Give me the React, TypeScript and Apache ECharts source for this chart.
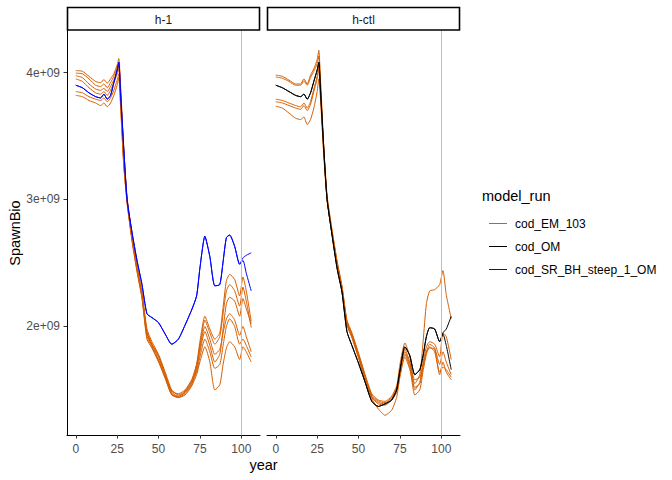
import React, { useEffect, useRef } from "react";
import * as echarts from "echarts";

// ---------- data (values in units of 1e9) ----------
const YEARS = [0, 4, 8, 12, 15, 17, 19, 21, 23, 25, 26, 27, 29, 31, 34, 37, 40, 43, 46, 50, 54, 58, 62, 66, 70, 73, 75, 78, 81, 84, 87, 89, 91, 93, 96, 99, 101, 103, 106];

// panel h-1
const H1_OM_A = [3.90, 3.88, 3.84, 3.81, 3.80, 3.83, 3.79, 3.82, 3.92, 4.02, 4.08, 3.85, 3.40, 3.00, 2.74, 2.52, 2.33, 2.10, 2.07, 2.03, 1.94, 1.86, 1.90, 2.01, 2.13, 2.24, 2.46, 2.71, 2.55, 2.32, 2.33, 2.51, 2.70, 2.72, 2.63, 2.49, 2.54, 2.56, 2.58];
const H1_OM_B = [3.90, 3.88, 3.84, 3.81, 3.80, 3.83, 3.79, 3.82, 3.92, 4.02, 4.08, 3.85, 3.40, 3.00, 2.74, 2.52, 2.33, 2.10, 2.07, 2.03, 1.94, 1.86, 1.90, 2.01, 2.13, 2.24, 2.46, 2.71, 2.55, 2.32, 2.33, 2.51, 2.70, 2.72, 2.63, 2.49, 2.52, 2.42, 2.28];
const H1_EM_1 = [4.015, 4.01, 3.97, 3.93, 3.92, 3.945, 3.915, 3.95, 3.99, 4.06, 4.11, 3.92, 3.40, 3.02, 2.72, 2.48, 2.27, 1.98, 1.88, 1.78, 1.64, 1.50, 1.46, 1.49, 1.57, 1.70, 1.88, 2.08, 1.98, 1.90, 1.95, 2.15, 2.36, 2.41, 2.37, 2.24, 2.39, 2.28, 2.04];
const H1_EM_2 = [3.995, 3.99, 3.95, 3.90, 3.89, 3.91, 3.88, 3.92, 3.97, 4.04, 4.08, 3.88, 3.36, 3.00, 2.70, 2.46, 2.25, 1.96, 1.86, 1.76, 1.62, 1.48, 1.45, 1.48, 1.55, 1.68, 1.85, 2.05, 1.95, 1.86, 1.92, 2.10, 2.28, 2.33, 2.28, 2.16, 2.31, 2.20, 1.99];
const H1_EM_3 = [3.975, 3.96, 3.91, 3.87, 3.86, 3.875, 3.85, 3.89, 3.94, 4.01, 4.05, 3.85, 3.33, 2.99, 2.69, 2.45, 2.24, 1.94, 1.85, 1.74, 1.61, 1.47, 1.44, 1.47, 1.54, 1.66, 1.80, 1.96, 1.85, 1.72, 1.78, 1.98, 2.18, 2.23, 2.20, 2.08, 2.22, 2.14, 2.02];
const H1_EM_4 = [3.95, 3.93, 3.88, 3.84, 3.83, 3.85, 3.82, 3.86, 3.92, 3.99, 4.03, 3.82, 3.30, 2.98, 2.68, 2.44, 2.23, 1.92, 1.84, 1.73, 1.60, 1.46, 1.45, 1.48, 1.56, 1.64, 1.76, 1.90, 1.80, 1.67, 1.70, 1.85, 2.00, 2.06, 2.00, 1.86, 1.90, 1.85, 1.76];
const H1_EM_5 = [3.85, 3.84, 3.81, 3.79, 3.78, 3.80, 3.77, 3.80, 3.86, 3.94, 3.99, 3.78, 3.28, 2.97, 2.67, 2.43, 2.22, 1.90, 1.83, 1.72, 1.59, 1.46, 1.44, 1.46, 1.53, 1.62, 1.72, 1.84, 1.72, 1.50, 1.54, 1.70, 1.83, 1.88, 1.84, 1.74, 1.84, 1.80, 1.72];
const H1_EM_6 = [3.82, 3.81, 3.78, 3.76, 3.74, 3.76, 3.73, 3.76, 3.82, 3.90, 3.96, 3.75, 3.26, 2.99, 2.70, 2.47, 2.26, 1.95, 1.86, 1.77, 1.63, 1.49, 1.47, 1.50, 1.58, 1.70, 1.83, 2.00, 1.90, 1.78, 1.82, 1.95, 2.06, 2.10, 2.05, 1.93, 2.00, 1.92, 1.80];

// panel h-ctl
const HCTL_OM_A = [3.90, 3.88, 3.85, 3.82, 3.81, 3.83, 3.79, 3.84, 3.93, 4.02, 4.08, 3.87, 3.40, 3.00, 2.72, 2.46, 2.27, 1.96, 1.85, 1.71, 1.56, 1.41, 1.37, 1.39, 1.42, 1.50, 1.65, 1.84, 1.77, 1.62, 1.66, 1.77, 1.92, 1.99, 1.98, 1.88, 1.95, 1.98, 2.08];
const HCTL_OM_B = [3.90, 3.88, 3.85, 3.82, 3.81, 3.83, 3.79, 3.84, 3.93, 4.02, 4.08, 3.87, 3.40, 3.00, 2.72, 2.46, 2.27, 1.96, 1.85, 1.71, 1.56, 1.41, 1.37, 1.39, 1.42, 1.50, 1.65, 1.84, 1.77, 1.62, 1.66, 1.77, 1.92, 1.99, 1.98, 1.88, 1.94, 1.85, 1.66];
const HCTL_EM_1 = [3.98, 3.97, 3.94, 3.91, 3.91, 3.95, 3.91, 3.98, 4.03, 4.10, 4.175, 3.95, 3.42, 3.03, 2.76, 2.52, 2.32, 2.05, 1.95, 1.79, 1.62, 1.47, 1.42, 1.41, 1.45, 1.53, 1.66, 1.80, 1.70, 1.55, 1.62, 1.88, 2.18, 2.28, 2.29, 2.33, 2.44, 2.25, 2.06];
const HCTL_EM_2 = [3.965, 3.955, 3.93, 3.90, 3.90, 3.935, 3.90, 3.96, 4.01, 4.07, 4.13, 3.92, 3.40, 3.02, 2.75, 2.51, 2.31, 2.04, 1.94, 1.78, 1.61, 1.46, 1.41, 1.40, 1.44, 1.52, 1.70, 1.87, 1.76, 1.50, 1.56, 1.72, 1.84, 1.88, 1.86, 1.76, 1.95, 1.92, 1.74];
const HCTL_EM_3 = [3.79, 3.78, 3.76, 3.74, 3.73, 3.76, 3.72, 3.77, 3.87, 3.97, 4.05, 3.85, 3.38, 3.01, 2.74, 2.50, 2.30, 2.03, 1.93, 1.77, 1.60, 1.45, 1.40, 1.39, 1.43, 1.50, 1.64, 1.82, 1.72, 1.58, 1.60, 1.70, 1.80, 1.86, 1.83, 1.70, 1.80, 1.72, 1.62];
const HCTL_EM_4 = [3.77, 3.76, 3.74, 3.72, 3.71, 3.74, 3.70, 3.75, 3.85, 3.95, 4.03, 3.83, 3.36, 3.00, 2.73, 2.49, 2.29, 2.02, 1.92, 1.76, 1.59, 1.44, 1.39, 1.38, 1.42, 1.48, 1.62, 1.78, 1.68, 1.46, 1.50, 1.65, 1.78, 1.84, 1.80, 1.64, 1.68, 1.66, 1.60];
const HCTL_EM_5 = [3.735, 3.72, 3.68, 3.64, 3.63, 3.65, 3.59, 3.63, 3.72, 3.85, 3.95, 3.80, 3.35, 3.00, 2.73, 2.48, 2.28, 2.01, 1.91, 1.75, 1.57, 1.43, 1.35, 1.30, 1.34, 1.44, 1.60, 1.76, 1.66, 1.52, 1.55, 1.68, 1.80, 1.83, 1.82, 1.62, 1.72, 1.64, 1.58];

const PANELS = ["h-1", "h-ctl"];
const X_TICKS = [0, 25, 50, 75, 100];
const Y_TICKS = [2e9, 3e9, 4e9];
const REF_YEAR = 100;
const LEGEND_ITEMS = ["cod_EM_103", "cod_OM", "cod_SR_BH_steep_1_OM"];

const FONT = "'Liberation Sans', Arial, Helvetica, sans-serif";
const COLORS: Record<string, string> = {
  cod_EM_103: "#D55E00",
  cod_OM: "#000000",
  cod_SR_BH_steep_1_OM: "#0000FF",
};

const toPairs = (vals: number[]) => vals.map((v, i) => [YEARS[i], v * 1e9]);

export default function App() {
  const ref = useRef<HTMLDivElement>(null);
  useEffect(() => {
    const chart = echarts.init(ref.current!, null, { renderer: "svg" });

    const panelRuns = [
      { em: [H1_EM_1, H1_EM_2, H1_EM_3, H1_EM_4, H1_EM_5, H1_EM_6], om: [H1_OM_A, H1_OM_B], omName: "cod_SR_BH_steep_1_OM" },
      { em: [HCTL_EM_1, HCTL_EM_2, HCTL_EM_3, HCTL_EM_4, HCTL_EM_5], om: [HCTL_OM_A, HCTL_OM_B], omName: "cod_OM" },
    ];

    const gridLefts = [67, 267];
    const gridW = 193;
    const gridTop = 30;
    const gridH = 405;
    const yMin = 1.145e9;
    const yMax = 4.335e9;

    const series: any[] = [];
    panelRuns.forEach((p, gi) => {
      p.em.forEach((vals, k) => {
        series.push({
          type: "line",
          name: "cod_EM_103",
          xAxisIndex: gi,
          yAxisIndex: gi,
          data: toPairs(vals),
          symbol: "none",
          smooth: 0.2,
          color: COLORS.cod_EM_103,
          lineStyle: { color: COLORS.cod_EM_103, width: 1 },
          itemStyle: { color: COLORS.cod_EM_103 },
          markLine: k === 0 ? {
            silent: true,
            symbol: ["none", "none"],
            label: { show: false },
            lineStyle: { color: "#BEBEBE", type: "solid", width: 1 },
            data: [{ xAxis: REF_YEAR }],
          } : undefined,
        });
      });
      p.om.forEach((vals) => {
        series.push({
          type: "line",
          name: p.omName,
          xAxisIndex: gi,
          yAxisIndex: gi,
          data: toPairs(vals),
          symbol: "none",
          smooth: 0.2,
          color: COLORS[p.omName],
          lineStyle: { color: COLORS[p.omName], width: 1 },
          itemStyle: { color: COLORS[p.omName] },
        });
      });
    });

    const xAxes = PANELS.map((_, gi) => ({
      type: "value",
      gridIndex: gi,
      min: -5.3,
      max: 111.3,
      axisLine: { show: true, onZero: false, lineStyle: { color: "#000", width: 1 } },
      axisTick: { show: true, length: 3.5, customValues: X_TICKS, lineStyle: { color: "#333" } },
      axisLabel: { customValues: X_TICKS, color: "#4D4D4D", fontSize: 12, margin: 8, fontFamily: FONT },
      splitLine: { show: false },
    }));

    const yAxes = PANELS.map((_, gi) => ({
      type: "value",
      gridIndex: gi,
      min: yMin,
      max: yMax,
      show: gi === 0,
      axisLine: { show: true, onZero: false, lineStyle: { color: "#000", width: 1 } },
      axisTick: { show: true, length: 3.5, customValues: Y_TICKS, lineStyle: { color: "#333" } },
      axisLabel: {
        customValues: Y_TICKS,
        color: "#4D4D4D",
        fontSize: 12,
        margin: 7,
        fontFamily: FONT,
        formatter: (v: number) => `${Math.round(v / 1e9)}e+09`,
      },
      splitLine: { show: false },
    }));

    const graphics: any[] = [];
    PANELS.forEach((label, gi) => {
      graphics.push({
        type: "rect",
        shape: { x: gridLefts[gi] + 0.5, y: 7.5, width: gridW - 1, height: 22.5 },
        style: { fill: "#fff", stroke: "#000", lineWidth: 1.6 },
        z: 10,
      });
      graphics.push({
        type: "text",
        x: gridLefts[gi] + gridW / 2,
        y: 20,
        style: { text: label, fill: "#1A1A1A", font: `12px ${FONT}`, textAlign: "center", textVerticalAlign: "middle" },
        z: 11,
      });
    });
    graphics.push({
      type: "text",
      x: 263.5,
      y: 465,
      style: { text: "year", fill: "#000", font: `14.5px ${FONT}`, textAlign: "center", textVerticalAlign: "middle" },
    });
    graphics.push({
      type: "text",
      x: 14.5,
      y: 233,
      rotation: Math.PI / 2,
      style: { text: "SpawnBio", fill: "#000", font: `14.5px ${FONT}`, textAlign: "center", textVerticalAlign: "middle" },
    });
    graphics.push({
      type: "text",
      x: 482,
      y: 196,
      style: { text: "model_run", fill: "#000", font: `14.5px ${FONT}`, textAlign: "left", textVerticalAlign: "middle" },
    });

    chart.setOption({
      animation: false,
      backgroundColor: "#fff",
      grid: gridLefts.map((l) => ({ left: l, top: gridTop, width: gridW, height: gridH, containLabel: false })),
      xAxis: xAxes,
      yAxis: yAxes,
      legend: {
        data: LEGEND_ITEMS.map((n) => ({ name: n, itemStyle: { color: COLORS[n] } })),
        orient: "vertical",
        left: 484,
        top: 211.5,
        icon: "rect",
        itemWidth: 18,
        itemHeight: 1,
        itemGap: 9,
        selectedMode: false,
        textStyle: { color: "#000", fontSize: 12, fontFamily: FONT, lineHeight: 14, padding: [0, 0, 0, 3] },
      },
      graphic: graphics,
      series,
    });

    return () => chart.dispose();
  }, []);

  return <div ref={ref} style={{ position: "fixed", left: 0, top: 0, width: 672, height: 480 }} />;
}
